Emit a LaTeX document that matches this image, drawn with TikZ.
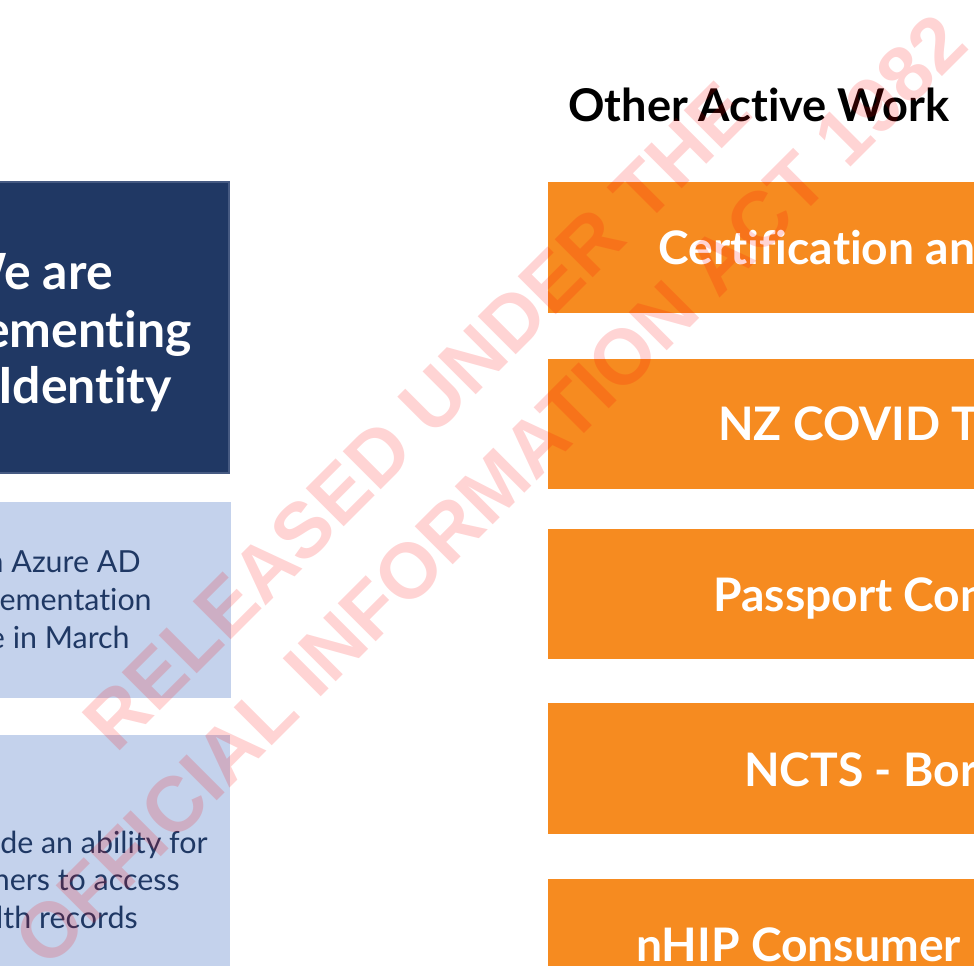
\documentclass[tikz,border=0pt]{standalone}
\usepackage{fontspec}
\setmainfont{Lato}[Ligatures=NoCommon]
\newfontfamily\stampfont{Liberation Sans}
\usetikzlibrary{fit}
\definecolor{navyfill}{RGB}{32,56,100}
\definecolor{navyline}{RGB}{70,90,130}
\definecolor{paleblue}{RGB}{196,210,236}
\definecolor{darktext}{RGB}{31,56,100}
\definecolor{workorange}{RGB}{246,139,32}
\tikzstyle{identbox} = [rectangle, inner sep=0pt, fill=navyfill, draw=navyline, line width=0.6pt]
\tikzstyle{infobox} = [rectangle, inner sep=0pt, fill=paleblue]
\tikzstyle{workbox} = [rectangle, inner sep=0pt, fill=workorange]
\tikzstyle{identtext} = [inner sep=0pt, anchor=base east, text=white, font=\fontsize{28.4pt}{32pt}\selectfont\bfseries]
\tikzstyle{infotext} = [inner sep=0pt, anchor=base east, text=darktext, font=\fontsize{17.3pt}{21pt}\selectfont]
\tikzstyle{worktext} = [inner sep=0pt, anchor=base west, text=white, font=\fontsize{26.3pt}{30pt}\selectfont\bfseries]
\tikzstyle{stamp} = [inner sep=0pt, rotate=45, text=red, text opacity=0.17, font=\fontsize{44.5pt}{50pt}\selectfont\stampfont\bfseries]

\begin{document}
\begin{tikzpicture}[x=0.02cm, y=-0.02cm]
\useasboundingbox (0,0) rectangle (974,966);
\clip (0,0) rectangle (974,966);

% left column
\node (ident) [identbox, fit={(-200,182) (229,473)}] {};
\node (ident1) [identtext] at (113,290) {We are};
\node (ident2) [identtext] at (192,347) {ementing};
\node (ident3) [identtext] at (172,403) {Identity};

\node (azure) [infobox, fit={(-200,502) (231,698)}] {};
\node (azure1) [infotext] at (141,572) {n Azure AD};
\node (azure2) [infotext] at (152,610) {ementation};
\node (azure3) [infotext] at (130,648) {e in March};

\node (records) [infobox, fit={(-200,735) (230,1000)}] {};
\node (records1) [infotext] at (208,853) {de an ability for};
\node (records2) [infotext] at (180,890) {ners to access};
\node (records3) [infotext] at (138,928) {lth records};

% right column
\node (title) [inner sep=0pt, anchor=base west, font=\fontsize{25.7pt}{30pt}\selectfont\bfseries] at (568,122) {Other Active Work};

\node (cert) [workbox, fit={(548,182) (1100,313)}] {};
\node (certtxt) [worktext] at (658,265) {Certification an};

\node (tracer) [workbox, fit={(548,359) (1100,489)}] {};
\node (tracertxt) [worktext] at (718,440) {NZ COVID Tra};

\node (passport) [workbox, fit={(548,529) (1100,659)}] {};
\node (passporttxt) [worktext] at (713,611) {Passport Con};

\node (ncts) [workbox, fit={(548,703) (1100,834)}] {};
\node (nctstxt) [worktext] at (744,786) {NCTS - Bord};

\node (nhip) [workbox, fit={(548,879) (1100,1000)}] {};
\node (nhiptxt) [worktext] at (636,961) {nHIP Consumer};

% watermark
\node (stamp1) [stamp] at (417,416) {RELEASED UNDER THE};
\node (stamp2) [stamp] at (490,490) {OFFICIAL INFORMATION ACT 1982};

\end{tikzpicture}
\end{document}
